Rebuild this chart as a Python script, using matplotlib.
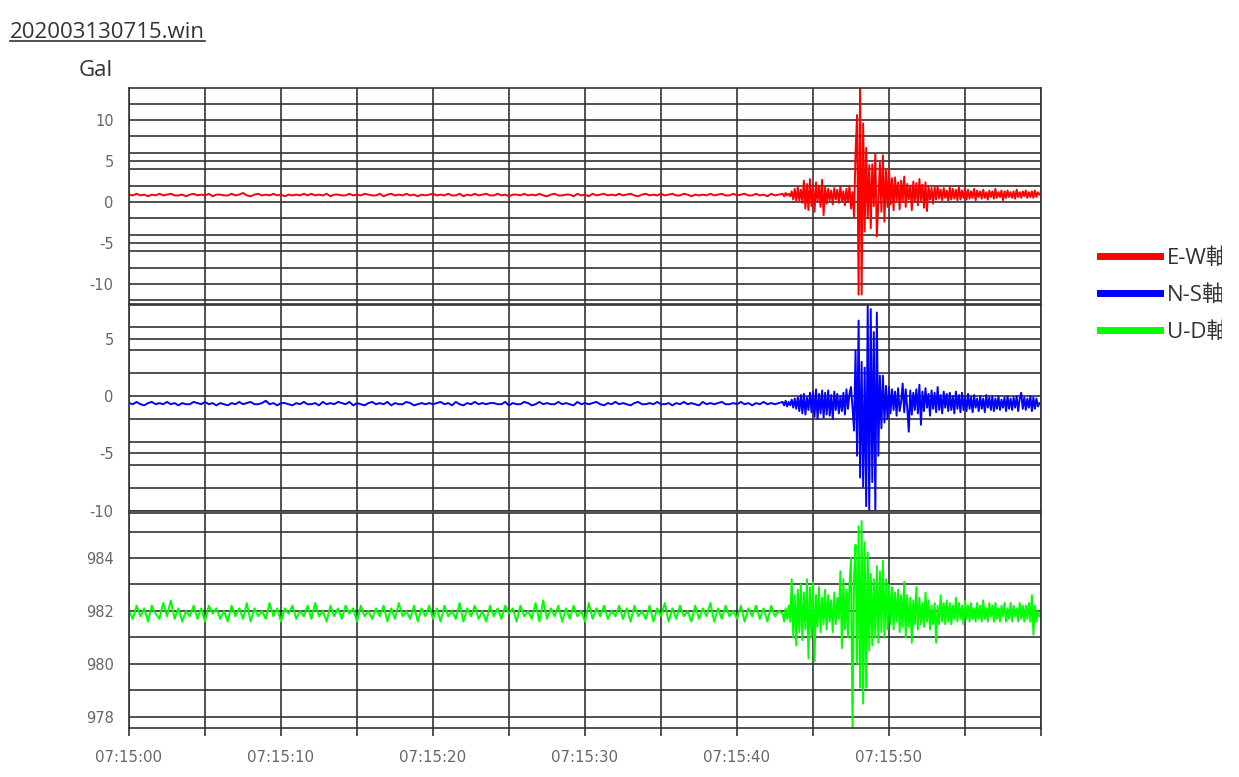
import numpy as np
import matplotlib.pyplot as plt
from matplotlib.lines import Line2D
from matplotlib.ticker import FixedLocator, MultipleLocator
from matplotlib.transforms import Bbox, TransformedBbox

plt.rcParams['axes.unicode_minus'] = False

# sampling of the hand-read traces
quiet_step = 0.25   # s, 0.00 .. 42.75
event_start = 43.0  # s
event_step = 0.1    # s, 43.0 .. 59.9

ew_quiet = [0.9, 0.8, 1.0, 0.8, 0.9, 0.7, 0.9, 0.8, 1.0, 0.8, 0.9, 1.0, 0.8, 0.8, 0.9, 0.7,
            0.9, 1.0, 0.8, 0.9, 0.8, 1.0, 0.7, 0.9, 0.9, 0.8, 0.8, 1.0, 0.8, 0.9, 1.1, 0.8,
            0.7, 0.9, 1.0, 0.8, 0.9, 0.8, 1.0, 0.8, 0.9, 0.7, 0.9, 0.8, 0.9, 0.8, 1.0, 0.8,
            1.0, 0.8, 0.9, 0.8, 1.0, 0.7, 0.9, 0.9, 0.8, 0.8, 1.0, 0.8, 0.9, 0.8, 1.0, 0.9,
            0.8, 0.8, 1.0, 0.7, 0.9, 1.0, 0.8, 0.9, 0.8, 1.0, 0.8, 0.9, 0.7, 0.9, 0.8, 0.9,
            1.0, 0.8, 0.9, 0.8, 1.0, 0.8, 0.8, 1.0, 0.7, 0.9, 0.8, 1.0, 0.8, 0.9, 1.0, 0.8,
            0.8, 1.0, 0.8, 0.9, 0.7, 0.9, 0.9, 0.8, 1.0, 0.8, 0.9, 0.8, 1.0, 0.8, 0.7, 0.9,
            1.0, 0.8, 0.8, 0.9, 0.9, 0.7, 1.0, 0.8, 0.9, 0.7, 1.0, 0.8, 0.9, 1.0, 0.8, 0.9,
            0.8, 1.0, 0.8, 0.9, 1.0, 0.8, 0.7, 0.9, 1.0, 0.8, 0.9, 0.8, 1.0, 0.8, 0.9, 1.0,
            0.8, 0.8, 1.0, 0.9, 0.7, 0.9, 0.8, 0.9, 0.8, 1.0, 0.8, 0.9, 1.0, 0.8, 0.8, 1.0,
            0.8, 0.9, 1.0, 0.8, 0.8, 1.0, 0.8, 0.9, 0.7, 1.0, 0.8, 0.9]
ew_event = [1.0, 0.7, 1.1, 0.8, 1.0, 0.7, 1.3, 0.3, 1.6, 0.1,
            1.8, 0.2, 1.5, -0.1, 2.6, -0.8, 2.2, -1.0, 2.8, -0.5,
            1.9, -1.2, 2.4, 0.0, 2.0, -0.6, 2.7, -1.6, 1.8, -0.2,
            1.6, 0.2, 1.4, -0.3, 1.7, 0.3, 1.5, -0.1, 1.9, 0.1,
            1.3, -0.4, 1.6, 0.0, 2.0, -0.8, 1.2, -1.8, 6.1, 10.6,
            -11.3, 14.5, -11.3, 9.6, -3.6, 6.6, -2.0, 4.5, -3.2, 4.6,
            -0.5, 5.9, -4.2, 0.0, 4.8, -1.2, 5.7, -2.4, 3.9, -0.6,
            4.1, -0.3, 2.9, -1.0, 3.0, 0.2, 2.4, -0.9, 2.6, 0.0,
            3.1, -0.6, 2.2, 0.3, 2.0, -1.0, 2.5, 0.1, 2.3, -0.4,
            2.8, 0.2, 2.1, -0.7, 2.4, -1.1, 1.9, 0.3, 1.7, -0.2,
            1.8, 0.3, 1.9, 0.4, 1.5, 0.2, 1.7, 0.5, 1.4, 0.1,
            1.8, 0.3, 1.6, 0.4, 1.5, 0.2, 1.9, 0.3, 1.4, 0.5,
            1.6, 0.3, 1.5, 0.4, 1.3, 0.5, 1.6, 0.2, 1.4, 0.6,
            1.3, 0.4, 1.5, 0.5, 1.2, 0.3, 1.4, 0.6, 1.3, 0.4,
            1.6, 0.5, 1.2, 0.6, 1.4, 0.2, 1.3, 0.5, 1.4, 0.6,
            1.2, 0.5, 1.3, 0.4, 1.5, 0.6, 1.2, 0.5, 1.3, 0.7,
            1.4, 0.5, 1.2, 0.6, 1.3, 0.5, 1.4, 0.6, 1.2, 0.9]

ns_quiet = [-0.6, -0.7, -0.5, -0.7, -0.8, -0.6, -0.5, -0.7, -0.6, -0.7, -0.5, -0.7, -0.6, -0.8, -0.6, -0.7,
            -0.7, -0.5, -0.6, -0.7, -0.5, -0.7, -0.6, -0.8, -0.6, -0.7, -0.8, -0.6, -0.7, -0.5, -0.7, -0.6,
            -0.5, -0.7, -0.7, -0.6, -0.4, -0.7, -0.6, -0.8, -0.6, -0.6, -0.7, -0.8, -0.6, -0.7, -0.5, -0.7,
            -0.7, -0.6, -0.8, -0.5, -0.7, -0.6, -0.7, -0.5, -0.6, -0.7, -0.5, -0.8, -0.6, -0.7, -0.8, -0.6,
            -0.5, -0.7, -0.6, -0.7, -0.5, -0.8, -0.6, -0.7, -0.7, -0.5, -0.6, -0.8, -0.7, -0.6, -0.7, -0.6,
            -0.7, -0.6, -0.5, -0.7, -0.6, -0.8, -0.5, -0.7, -0.8, -0.6, -0.7, -0.5, -0.7, -0.6, -0.7, -0.6,
            -0.6, -0.7, -0.7, -0.5, -0.8, -0.6, -0.7, -0.7, -0.5, -0.6, -0.8, -0.7, -0.5, -0.7, -0.6, -0.7,
            -0.7, -0.5, -0.7, -0.6, -0.7, -0.8, -0.5, -0.7, -0.6, -0.7, -0.6, -0.5, -0.7, -0.8, -0.6, -0.7,
            -0.5, -0.7, -0.6, -0.7, -0.8, -0.6, -0.5, -0.7, -0.7, -0.6, -0.7, -0.5, -0.7, -0.7, -0.6, -0.8,
            -0.6, -0.7, -0.5, -0.7, -0.6, -0.7, -0.8, -0.5, -0.7, -0.6, -0.7, -0.6, -0.5, -0.7, -0.7, -0.6,
            -0.7, -0.5, -0.7, -0.6, -0.8, -0.6, -0.7, -0.5, -0.7, -0.6, -0.7, -0.6]
ns_event = [-0.5, -0.8, -0.4, -0.9, -0.5, -0.8, -0.3, -1.0, -0.2, -1.1,
            -0.1, -1.3, 0.1, -1.5, 0.2, -1.6, -0.1, -1.2, 0.3, -1.4,
            0.4, -1.8, 0.6, -2.0, 0.2, -1.5, 0.5, -1.9, 0.3, -1.6,
            0.5, -1.7, 0.1, -2.0, 0.4, -1.2, 0.2, -1.5, 0.0, -1.3,
            0.3, -1.6, 0.6, -1.1, 0.2, 0.8, -1.0, -3.0, 4.0, -5.2,
            6.6, -7.1, 3.0, -7.9, 2.5, -9.6, 8.2, -10.0, 7.6, -7.5,
            5.6, -10.0, 7.3, -5.2, 1.8, -2.8, 1.8, -2.3, 0.9, -2.0,
            0.8, -1.5, 0.6, -1.2, 0.4, -1.7, 0.7, -1.3, -0.5, 1.1,
            -1.4, 0.6, -1.0, -3.1, 0.5, -1.6, 0.3, -1.2, 0.6, -1.5,
            1.0, -2.5, 0.4, -1.3, 0.7, -1.0, 0.2, -1.7, 0.5, -1.1,
            0.3, -1.4, 0.8, -1.2, 0.1, -1.5, 0.4, -1.0, 0.2, -1.3,
            0.3, -1.2, 0.0, -1.5, 0.4, -1.1, 0.1, -1.4, 0.3, -1.2,
            0.0, -1.3, 0.2, -1.1, -0.1, -1.4, 0.1, -1.0, -0.2, -1.3,
            0.0, -1.1, -0.2, -1.4, 0.1, -1.0, -0.1, -1.2, 0.0, -1.3,
            -0.2, -1.1, 0.0, -1.2, -0.3, -1.0, -0.1, -1.3, 0.0, -1.1,
            -0.2, -1.2, -0.1, -1.0, 0.0, -1.3, -0.2, 0.3, -1.1, -0.1,
            -1.2, -0.2, -1.0, 0.0, -1.3, -0.1, -1.1, -0.2, -0.9, -0.6]

ud_quiet = [982.0, 981.7, 982.2, 981.8, 982.1, 981.6, 982.2, 981.9, 981.7, 982.3, 981.8, 982.4, 981.7, 982.1, 981.6, 982.0,
            981.8, 982.2, 981.7, 982.1, 981.6, 982.2, 981.9, 982.1, 981.7, 982.0, 981.6, 982.2, 981.8, 982.1, 981.7, 982.3,
            981.6, 982.1, 981.8, 982.0, 981.7, 982.3, 981.8, 982.1, 981.6, 982.1, 981.9, 982.2, 981.7, 982.0, 981.8, 982.2,
            981.7, 982.3, 981.8, 982.0, 981.6, 982.2, 981.8, 982.1, 981.7, 982.2, 981.9, 982.1, 981.6, 982.2, 981.8, 982.0,
            981.7, 982.1, 981.8, 982.2, 981.6, 982.1, 981.7, 982.3, 981.8, 982.0, 981.7, 982.2, 981.6, 982.1, 981.8, 982.2,
            981.7, 982.1, 981.6, 982.2, 981.8, 982.0, 981.7, 982.3, 981.6, 982.1, 981.8, 982.2, 981.7, 982.0, 981.6, 982.2,
            981.8, 982.1, 981.7, 982.2, 981.9, 982.1, 981.6, 982.2, 981.8, 982.0, 981.7, 982.3, 981.6, 982.4, 981.7, 982.1,
            981.8, 982.2, 981.6, 982.1, 981.7, 982.2, 981.8, 982.0, 981.6, 982.3, 981.7, 982.1, 981.8, 982.2, 981.7, 982.0,
            981.8, 982.2, 981.7, 982.1, 981.6, 982.2, 981.8, 982.0, 981.7, 982.2, 981.6, 982.1, 981.8, 982.3, 981.6, 982.1,
            981.7, 982.2, 981.8, 982.0, 981.6, 982.2, 981.7, 982.1, 981.8, 982.3, 981.6, 982.1, 981.7, 982.2, 981.8, 982.0,
            981.7, 982.2, 981.6, 982.1, 981.8, 982.2, 981.7, 982.1, 981.6, 982.2, 981.8, 982.0]
ud_event = [981.9, 981.6, 982.1, 981.7, 982.2, 981.6, 983.2, 981.0, 982.6, 980.7,
            982.8, 981.2, 983.0, 980.9, 982.7, 981.3, 983.2, 980.2, 982.9, 981.0,
            983.1, 980.1, 982.6, 981.4, 982.9, 981.2, 982.5, 981.5, 982.8, 981.3,
            982.6, 981.6, 982.4, 981.2, 982.7, 981.5, 982.5, 981.7, 983.5, 980.6,
            983.2, 981.3, 982.8, 981.0, 983.0, 984.0, 977.5, 983.3, 984.5, 980.0,
            985.2, 979.1, 985.4, 978.5, 984.6, 979.1, 984.2, 980.5, 983.4, 980.7,
            983.2, 981.0, 983.7, 980.8, 983.5, 981.2, 983.9, 981.0, 983.2, 981.3,
            983.0, 981.5, 982.9, 981.3, 982.7, 981.6, 982.8, 981.2, 982.6, 981.4,
            983.1, 981.0, 982.6, 981.4, 982.5, 980.8, 982.4, 981.5, 982.9, 981.3,
            982.5, 981.5, 982.3, 981.4, 982.7, 981.6, 982.4, 981.3, 982.2, 981.5,
            982.3, 980.8, 982.2, 981.5, 982.6, 981.6, 982.3, 981.5, 982.4, 981.6,
            982.3, 981.5, 982.2, 981.7, 982.5, 981.6, 982.3, 981.7, 982.2, 981.5,
            982.4, 981.7, 982.2, 981.6, 982.3, 981.7, 982.1, 981.6, 982.3, 981.7,
            982.2, 981.6, 982.4, 981.7, 982.1, 981.6, 982.3, 981.8, 982.2, 981.6,
            982.3, 981.7, 982.1, 981.6, 982.2, 981.8, 982.3, 981.6, 982.1, 981.7,
            982.3, 981.6, 982.2, 981.8, 982.1, 981.6, 982.3, 981.7, 982.2, 981.6,
            982.2, 981.7, 982.3, 981.6, 982.6, 981.1, 982.2, 981.6, 982.0, 981.8]

labels = ['E-W軸', 'N-S軸', 'U-D軸']
colors = ['#ff0000', '#0000ff', '#00ff00']
y_ticks = [[-10, -5, 0, 5, 10], [-10, -5, 0, 5], [978, 980, 982, 984]]
y_limits = [(-12.44, 13.9), (-10.02, 7.96), (977.58, 985.7)]
y_minor = [2, 2, 1]
x_ticks = [0, 10, 20, 30, 40, 50, 60]
x_labels = ['07:15:00', '07:15:10', '07:15:20', '07:15:30', '07:15:40', '07:15:50', '']

W, H = 1239, 777
grid_c = '#333333'
# panel boxes in pixels: top, bottom
boxes = [(88, 304), (305, 511), (513, 728)]


def times(quiet, event):
    tq = np.arange(len(quiet)) * quiet_step
    te = event_start + np.arange(len(event)) * event_step
    return np.concatenate([tq, te])


fig = plt.figure(figsize=(W / 100, H / 100), dpi=100)
series = [(ew_quiet, ew_event), (ns_quiet, ns_event), (ud_quiet, ud_event)]
lines = []
for i, (quiet, event) in enumerate(series):
    top, bot = boxes[i]
    ax = fig.add_axes([129 / W, 1 - bot / H, 912 / W, (bot - top) / H])
    t = times(quiet, event)
    ln, = ax.plot(t, list(quiet) + list(event), color=colors[i], lw=1.4)
    lines.append(ln)
    ax.set_xlim(0, 60)
    ax.set_ylim(*y_limits[i])
    ax.set_axisbelow(True)
    ax.yaxis.set_major_locator(FixedLocator(y_ticks[i]))
    ax.yaxis.set_minor_locator(MultipleLocator(y_minor[i]))
    ax.xaxis.set_major_locator(FixedLocator(x_ticks))
    ax.xaxis.set_minor_locator(MultipleLocator(5))
    ax.grid(which='both', color=grid_c, lw=1.2)
    for s in ax.spines.values():
        s.set_color(grid_c)
        s.set_linewidth(1.2)
    ax.tick_params(axis='y', which='both', length=0, pad=11, labelsize=10.5, labelcolor='#666666')
    if i == 2:
        ax.set_xticklabels(x_labels)
        ax.tick_params(axis='x', which='both', length=5.8, width=1.2, color=grid_c,
                       pad=10, labelsize=10.8, labelcolor='#666666')
    else:
        ax.tick_params(axis='x', which='both', length=0, labelbottom=False)

title = fig.text(10 / W, 1 - 38 / H, '202003130715.win', fontsize=16, family='Open Sans',
                 color='#333333', va='baseline')
fig.text(79 / W, 1 - 76 / H, 'Gal', fontsize=16, family='Open Sans', color='#333333', va='baseline')

fig.canvas.draw()
bb = title.get_window_extent()
fig.add_artist(Line2D([bb.x0 / W, bb.x1 / W], [1 - 41 / H, 1 - 41 / H],
                      transform=fig.transFigure, color='#333333', lw=1.2))

leg = fig.legend(lines, labels, loc='upper left', bbox_to_anchor=(1100 / W, 1 - 248 / H),
                 frameon=False, prop={'family': ['Open Sans', 'Noto Sans CJK JP'], 'size': 16},
                 handlelength=2.7, handletextpad=0.3, labelspacing=0.72,
                 borderpad=0, borderaxespad=0)
for h in leg.legend_handles:
    h.set_linewidth(5)
clip = TransformedBbox(Bbox([[0, 0], [1222 / W, 1]]), fig.transFigure)
for txt in leg.get_texts():
    txt.set_color('#333333')
    txt.set_clip_box(clip)
    txt.set_clip_on(True)

fig.savefig('out.png', dpi=100)
